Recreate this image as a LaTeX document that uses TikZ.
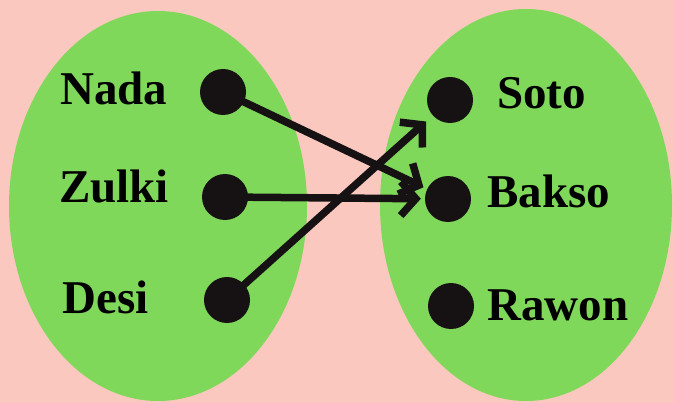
\documentclass[tikz,border=0pt]{standalone}
\usepackage{fontspec}
\setmainfont{Liberation Serif}
\usepackage{tikz}
\usetikzlibrary{arrows.meta}

\definecolor{bgpink}{RGB}{250,200,190}
\definecolor{setgreen}{RGB}{128,216,90}
\definecolor{dotblack}{RGB}{22,18,20}

\begin{document}
\begin{tikzpicture}[x=1pt,y=-1pt,
    font=\bfseries\fontsize{47}{50}\selectfont,
    elem/.style={circle,fill=dotblack,inner sep=0pt,minimum size=46pt},
    elemlabel/.style={anchor=base west,inner sep=0pt},
    maps/.style={line width=7.5pt,dotblack,shorten >=4pt,
                 -{Straight Barb[length=15pt,width=34pt]}}]

  % Background and page size
  \useasboundingbox (0,0) rectangle (674,403);
  \fill[bgpink] (0,0) rectangle (674,403);

  % The two sets
  \fill[setgreen] (158,206) ellipse [x radius=149pt,y radius=195pt];
  \fill[setgreen] (526,205) ellipse [x radius=146pt,y radius=196pt];

  % Elements of the first set
  \node[elem] (nada)  at (223,92)  {};
  \node[elem] (zulki) at (225,197) {};
  \node[elem] (desi)  at (227,300) {};
  \node[elemlabel] (lnada)  at (60,105)  {Nada};
  \node[elemlabel] (lzulki) at (59,203)  {Zulki};
  \node[elemlabel] (ldesi)  at (62,313)  {Desi};

  % Elements of the second set
  \node[elem] (soto)  at (450,100) {};
  \node[elem] (bakso) at (448,199) {};
  \node[elem] (rawon) at (451,306) {};
  \node[elemlabel] (lsoto)  at (497,109) {Soto};
  \node[elemlabel] (lbakso) at (487,208) {Bakso};
  \node[elemlabel] (lrawon) at (487,320) {Rawon};

  % The mapping
  \draw[maps] (nada.center)  -- (bakso);
  \draw[maps] (zulki.center) -- (bakso);
  \draw[maps,shorten >=9pt] (desi.center) -- (soto);

\end{tikzpicture}
\end{document}
